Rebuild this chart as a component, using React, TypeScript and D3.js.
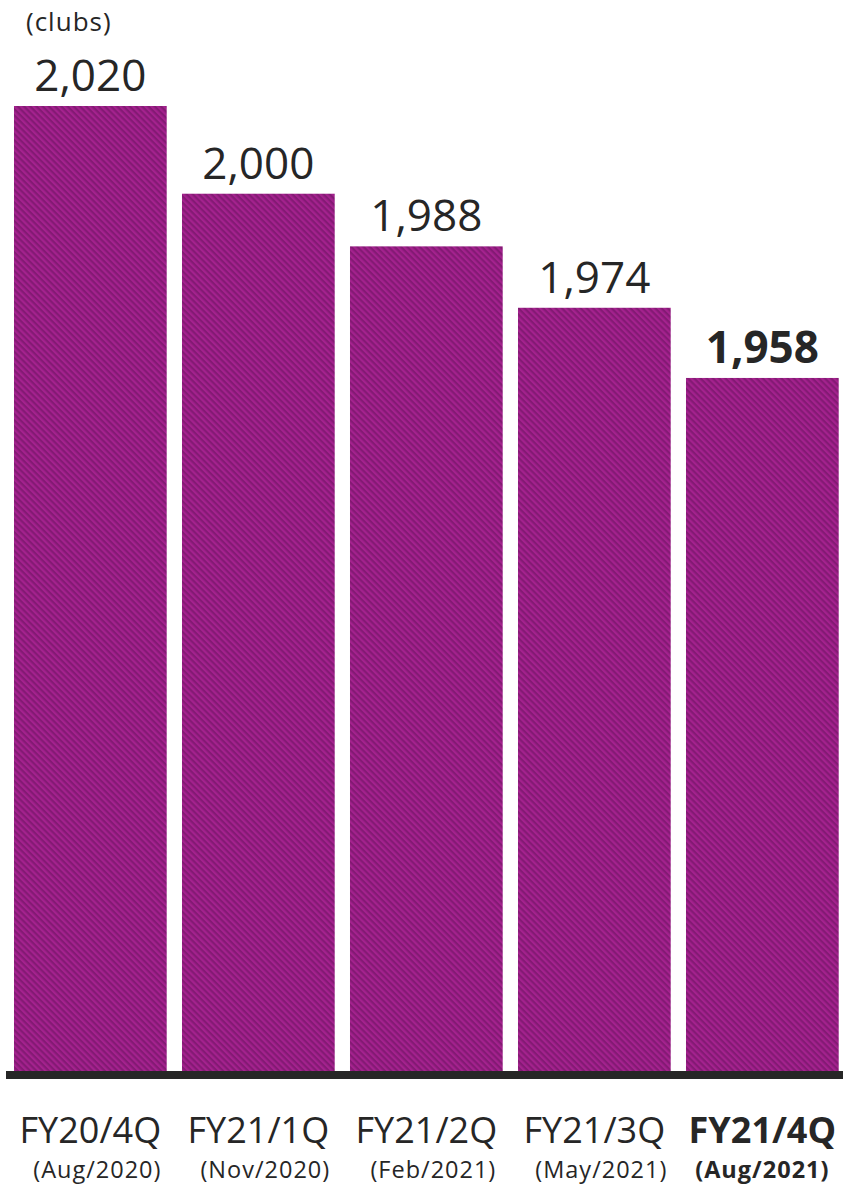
import React from "react";
import * as d3 from "d3";

const categories = ["FY20/4Q", "FY21/1Q", "FY21/2Q", "FY21/3Q", "FY21/4Q"];
const periods = ["(Aug/2020)", "(Nov/2020)", "(Feb/2021)", "(May/2021)", "(Aug/2021)"];
const values = [2020, 2000, 1988, 1974, 1958];
const highlight = [false, false, false, false, true];
const unitLabel = "(clubs)";

const W = 843;
const H = 1185;
const FONT = "'Open Sans', 'Noto Sans', sans-serif";
const TEXT = "#262626";

export default function App() {
  const x = d3
    .scaleBand<string>()
    .domain(categories)
    .range([6.35, 846.35])
    .paddingInner(0.091)
    .paddingOuter(0.0455);
  const y = d3.scaleLinear().domain([1800, 2020]).range([1071, 106]);
  const fmt = d3.format(",");

  return (
    <svg
      width={W}
      height={H}
      style={{ position: "absolute", left: 0, top: 0, background: "#fff" }}
    >
      <defs>
        <pattern
          id="stripe"
          width={4.4}
          height={4.4}
          patternUnits="userSpaceOnUse"
          patternTransform="rotate(45)"
        >
          <rect width={4.4} height={4.4} fill="#a4228e" />
          <rect width={4.4} height={2.2} fill="#841a74" />
        </pattern>
      </defs>
      <text
        x={26}
        y={31}
        fontFamily={FONT}
        fontSize={26}
        letterSpacing={1}
        fill={TEXT}
      >
        {unitLabel}
      </text>
      {categories.map((c, i) => {
        const bx = x(c) as number;
        const bw = x.bandwidth();
        const cx = bx + bw / 2;
        const top = y(values[i]);
        const bold = highlight[i];
        return (
          <g key={c}>
            <rect x={bx} y={top} width={bw} height={y(1800) - top} fill="url(#stripe)" />
            <text
              x={cx}
              y={top - 15}
              textAnchor="middle"
              fontFamily={FONT}
              fontSize={44}
              fontWeight={bold ? 700 : 400}
              fill={TEXT}
            >
              {fmt(values[i])}
            </text>
            <text
              x={cx}
              y={1143}
              textAnchor="middle"
              fontFamily={FONT}
              fontSize={36}
              fontWeight={bold ? 700 : 400}
              fill={TEXT}
            >
              {c}
            </text>
            <text
              x={cx + (bold ? 0 : 7)}
              y={1178}
              textAnchor="middle"
              fontFamily={FONT}
              fontSize={23.5}
              letterSpacing={1}
              fontWeight={bold ? 700 : 400}
              fill={TEXT}
            >
              {periods[i]}
            </text>
          </g>
        );
      })}
      <line x1={6} x2={W} y1={1075} y2={1075} stroke="#262626" strokeWidth={8} />
    </svg>
  );
}
